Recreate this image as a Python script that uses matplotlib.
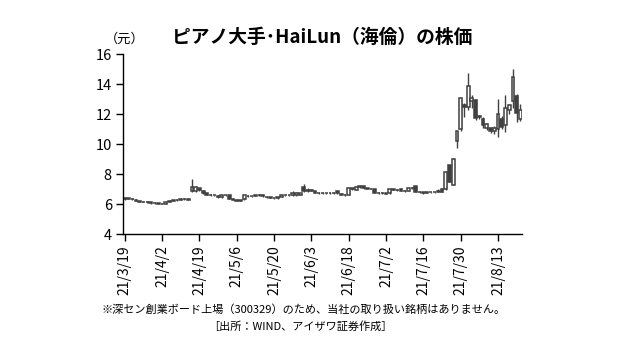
import numpy as np
import matplotlib.pyplot as plt

plt.rcParams['font.family'] = ['Noto Sans CJK JP', 'DejaVu Sans']

# 日足 (始値, 高値, 安値, 終値)  21/3/19 ～ 21/8/23
opens = [6.35, 6.38, 6.36, 6.30, 6.20, 6.15, 6.15, 6.12, 6.05, 6.08,
         6.04, 6.03, 6.14, 6.22, 6.26, 6.30, 6.35, 6.30, 6.85, 6.88,
         7.05, 6.90, 6.72, 6.62, 6.60, 6.55, 6.45, 6.58, 6.58, 6.36,
         6.30, 6.24, 6.33, 6.56, 6.52, 6.54, 6.58, 6.62, 6.50, 6.45,
         6.42, 6.38, 6.50, 6.58, 6.60, 6.58, 6.58, 6.62, 7.15, 6.88,
         6.92, 6.85, 6.75, 6.74, 6.72, 6.74, 6.72, 6.85, 6.70, 6.62,
         6.62, 6.98, 6.95, 7.15, 7.18, 7.06, 7.04, 7.00, 6.75, 6.76,
         6.74, 6.72, 6.98, 6.96, 7.02, 6.88, 6.90, 7.06, 7.20, 6.82,
         6.78, 6.76, 6.78, 6.80, 6.82, 7.00, 6.98, 8.58, 7.28, 10.20,
         10.98, 12.60, 12.50, 12.85, 12.95, 11.85, 11.70, 11.05, 11.05, 10.85,
         10.98, 11.65, 11.25, 12.28, 12.90, 13.20, 11.70]
highs = [6.40, 6.40, 6.38, 6.32, 6.22, 6.18, 6.18, 6.14, 6.12, 6.10,
         6.06, 6.15, 6.25, 6.28, 6.34, 6.42, 6.38, 6.38, 7.65, 7.18,
         7.08, 6.92, 6.75, 6.66, 6.64, 6.58, 6.62, 6.64, 6.60, 6.40,
         6.32, 6.30, 6.62, 6.60, 6.56, 6.62, 6.68, 6.66, 6.52, 6.48,
         6.44, 6.50, 6.62, 6.62, 6.64, 6.85, 6.78, 6.76, 7.32, 7.05,
         7.00, 6.90, 6.78, 6.80, 6.76, 6.78, 6.82, 6.88, 6.72, 6.66,
         7.08, 7.08, 7.18, 7.30, 7.20, 7.10, 7.08, 7.03, 6.80, 6.80,
         6.76, 7.02, 7.02, 7.00, 7.05, 6.92, 7.10, 7.12, 7.24, 6.85,
         6.82, 6.80, 6.82, 6.84, 6.98, 7.05, 8.18, 8.62, 9.06, 10.90,
         13.10, 12.75, 14.75, 13.30, 13.00, 11.95, 11.78, 11.40, 11.12, 11.20,
         12.98, 11.90, 13.25, 12.65, 14.98, 13.35, 12.65]
lows = [6.30, 6.32, 6.30, 6.18, 6.13, 6.12, 6.10, 6.04, 6.03, 6.02,
        6.00, 6.02, 6.12, 6.20, 6.24, 6.28, 6.28, 6.28, 6.80, 6.82,
        6.88, 6.70, 6.58, 6.55, 6.52, 6.42, 6.44, 6.54, 6.34, 6.28,
        6.20, 6.20, 6.30, 6.48, 6.48, 6.52, 6.55, 6.50, 6.42, 6.40,
        6.34, 6.36, 6.48, 6.54, 6.55, 6.56, 6.56, 6.60, 6.80, 6.82,
        6.85, 6.72, 6.70, 6.70, 6.66, 6.70, 6.70, 6.70, 6.60, 6.56,
        6.60, 6.95, 6.92, 7.10, 7.02, 7.00, 6.98, 6.72, 6.70, 6.70,
        6.66, 6.70, 6.92, 6.90, 6.86, 6.82, 6.88, 7.02, 6.78, 6.74,
        6.70, 6.72, 6.72, 6.74, 6.80, 6.78, 6.95, 7.45, 7.25, 9.72,
        10.90, 11.82, 12.30, 12.40, 11.60, 11.65, 11.10, 10.95, 10.75, 10.65,
        10.50, 11.00, 10.80, 12.00, 12.40, 11.50, 11.55]
closes = [6.38, 6.35, 6.32, 6.20, 6.15, 6.15, 6.14, 6.05, 6.10, 6.04,
          6.02, 6.14, 6.22, 6.26, 6.30, 6.35, 6.33, 6.36, 7.15, 7.12,
          6.92, 6.74, 6.62, 6.60, 6.58, 6.45, 6.58, 6.60, 6.36, 6.30,
          6.24, 6.26, 6.58, 6.52, 6.54, 6.58, 6.62, 6.52, 6.45, 6.44,
          6.38, 6.48, 6.58, 6.60, 6.58, 6.72, 6.75, 6.74, 6.85, 6.92,
          6.88, 6.75, 6.74, 6.72, 6.74, 6.72, 6.76, 6.72, 6.62, 6.60,
          7.05, 7.05, 7.15, 7.20, 7.06, 7.04, 7.02, 6.75, 6.76, 6.74,
          6.70, 7.00, 6.96, 6.95, 6.88, 6.86, 7.06, 7.08, 6.82, 6.78,
          6.76, 6.78, 6.80, 6.80, 6.90, 6.82, 8.15, 7.50, 9.04, 10.85,
          13.05, 12.45, 13.85, 13.10, 11.72, 11.78, 11.28, 11.35, 10.90, 11.10,
          12.00, 11.15, 12.40, 12.60, 14.45, 12.05, 12.28]

tick_labels = ['21/3/19', '21/4/2', '21/4/19', '21/5/6', '21/5/20', '21/6/3',
               '21/6/18', '21/7/2', '21/7/16', '21/7/30', '21/8/13']

o = np.array(opens)
h = np.array(highs)
l = np.array(lows)
c = np.array(closes)
x = np.arange(len(o))
up = c >= o

col = '#404040'
fig = plt.figure(figsize=(6.4, 3.58), dpi=100)
ax = fig.add_axes([0.192, 0.346, 0.624, 0.503])

ax.vlines(x, l, h, color=col, linewidth=1, zorder=1)
body_bot = np.minimum(o, c)
body_h = np.abs(c - o)
ax.bar(x[up], body_h[up], bottom=body_bot[up], width=0.75,
       facecolor='white', edgecolor=col, linewidth=1.1, zorder=2)
ax.bar(x[~up], body_h[~up], bottom=body_bot[~up], width=0.75,
       facecolor=col, edgecolor=col, linewidth=1.1, zorder=2)

ax.set_xlim(-0.5, len(o) - 0.5)
ax.set_ylim(4, 16)
ax.set_yticks(np.arange(4, 17, 2))
ax.set_xticks(np.arange(0, 10 * len(tick_labels), 10))
ax.set_xticklabels(tick_labels, rotation=90, fontsize=10)
ax.tick_params(axis='y', labelsize=10.5, length=5, width=1, pad=3)
ax.tick_params(axis='x', length=5, width=1, pad=3)
for s in ['top', 'right']:
    ax.spines[s].set_visible(False)
for s in ['left', 'bottom']:
    ax.spines[s].set_linewidth(1)

ax.text(-0.045, 1.08, '（元）', transform=ax.transAxes, fontsize=9.5,
        ha='left', va='center')
fig.text(0.503, 0.895, 'ピアノ大手･HaiLun（海倫）の株価', fontsize=13.5,
         fontweight='bold', ha='center', va='center')
fig.text(0.474, 0.135, '※深セン創業ボード上場（300329）のため、当社の取り扱い銘柄はありません。',
         fontsize=8, ha='center', va='center')
fig.text(0.47, 0.088, '［出所：WIND、アイザワ証券作成］', fontsize=8,
         ha='center', va='center')

fig.savefig('out.png', dpi=100)
